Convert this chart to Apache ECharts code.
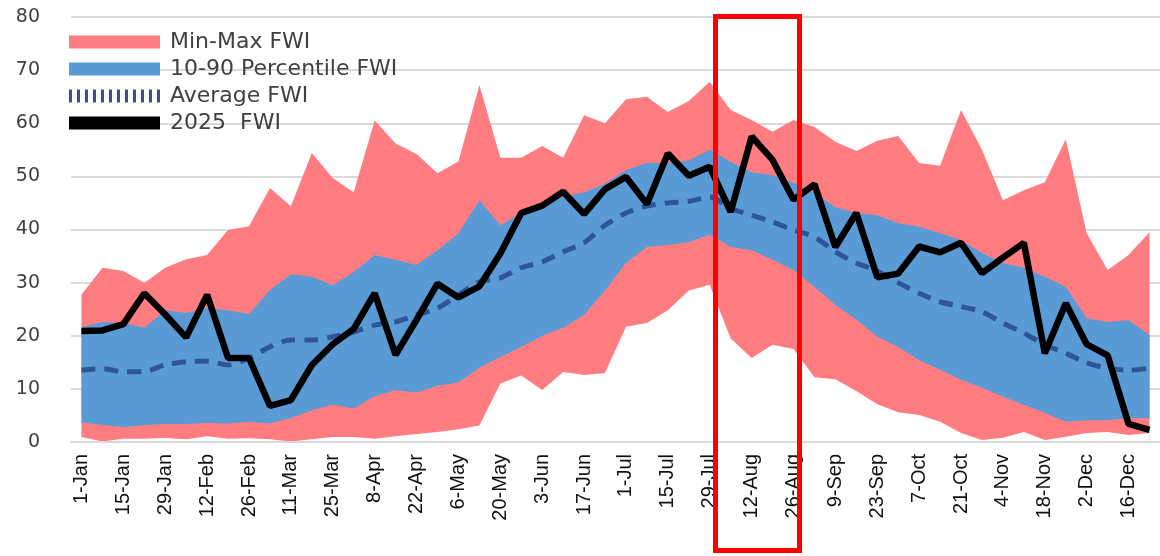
<!DOCTYPE html>
<html>
<head>
<meta charset="utf-8">
<script src="https://cdn.jsdelivr.net/npm/echarts@6.0.0/dist/echarts.min.js"></script>
<style>
  html, body { margin: 0; padding: 0; background: #fff; }
  #chart { width: 1160px; height: 556px; }
</style>
</head>
<body>
<div id="chart"></div>
<script>
// weekly dates (leap-year calendar, as on the axis)
const weeks = ['1-Jan','8-Jan','15-Jan','22-Jan','29-Jan','5-Feb','12-Feb','19-Feb','26-Feb','4-Mar',
  '11-Mar','18-Mar','25-Mar','1-Apr','8-Apr','15-Apr','22-Apr','29-Apr','6-May','13-May',
  '20-May','27-May','3-Jun','10-Jun','17-Jun','24-Jun','1-Jul','8-Jul','15-Jul','22-Jul',
  '29-Jul','5-Aug','12-Aug','19-Aug','26-Aug','2-Sep','9-Sep','16-Sep','23-Sep','30-Sep',
  '7-Oct','14-Oct','21-Oct','28-Oct','4-Nov','11-Nov','18-Nov','25-Nov','2-Dec','9-Dec',
  '16-Dec','23-Dec']

const maxFWI = [27.7, 32.8, 32.2, 30.0, 32.8, 34.4, 35.2, 39.9, 40.6, 47.8,
  44.4, 54.4, 49.7, 47.0, 60.5, 56.2, 54.2, 50.6, 52.8, 67.2,
  53.5, 53.5, 55.7, 53.5, 61.5, 60.0, 64.5, 65.0, 62.1, 64.2,
  67.8, 62.5, 60.6, 58.4, 60.6, 59.3, 56.5, 54.8, 56.7, 57.6,
  52.5, 52.0, 62.5, 55.0, 45.5, 47.4, 48.9, 57.0, 39.3, 32.4,
  35.2, 39.5]

const minFWI = [0.95, 0.1, 0.6, 0.6, 0.75, 0.5, 1.1, 0.6, 0.7, 0.5,
  0.1, 0.5, 0.95, 0.95, 0.6, 1.1, 1.5, 1.9, 2.4, 3.1,
  11.0, 12.5, 9.8, 13.2, 12.6, 13.0, 21.7, 22.4, 24.8, 28.5,
  29.6, 19.5, 15.8, 18.3, 17.5, 12.2, 11.8, 9.6, 7.1, 5.6,
  5.1, 3.8, 1.7, 0.4, 0.8, 1.9, 0.4, 1.0, 1.7, 1.9,
  1.3, 1.7]

const p90FWI = [21.6, 22.6, 22.4, 21.5, 24.8, 24.3, 25.2, 24.8, 24.1, 28.6,
  31.6, 31.1, 29.5, 32.0, 35.2, 34.3, 33.3, 36.1, 39.3, 45.5,
  40.8, 43.1, 45.0, 46.1, 47.0, 48.6, 51.2, 52.5, 52.5, 53.0,
  55.0, 52.7, 50.8, 50.2, 48.8, 46.9, 44.2, 43.1, 42.7, 41.2,
  40.5, 39.3, 38.0, 35.6, 33.7, 32.8, 31.1, 29.2, 23.3, 22.6,
  22.9, 20.1]

const p10FWI = [3.7, 3.2, 2.8, 3.2, 3.4, 3.4, 3.6, 3.5, 3.8, 3.5,
  4.5, 6.0, 7.0, 6.3, 8.6, 9.8, 9.3, 10.6, 11.2, 14.0,
  16.0, 17.9, 20.0, 21.5, 23.9, 28.5, 33.7, 36.7, 37.1, 37.6,
  39.0, 36.7, 36.1, 34.3, 32.4, 29.2, 25.8, 23.0, 19.8, 17.9,
  15.4, 13.6, 11.7, 10.2, 8.5, 7.0, 5.5, 3.8, 4.1, 4.1,
  4.5, 4.5]

const avgFWI = [13.5, 13.8, 13.2, 13.3, 14.5, 15.1, 15.2, 14.5, 15.8, 17.9,
  19.2, 19.2, 19.8, 20.7, 22.0, 22.6, 23.9, 25.2, 27.7, 30.1,
  30.9, 32.8, 33.9, 35.8, 37.5, 40.8, 43.1, 44.4, 45.0, 45.3,
  46.1, 44.0, 42.7, 41.4, 39.9, 38.6, 35.8, 33.7, 32.2, 30.0,
  28.0, 26.4, 25.5, 24.5, 22.4, 20.5, 18.3, 16.7, 14.9, 13.9,
  13.5, 13.9]

const fwi2025 = [20.9, 21.0, 22.2, 28.0, 24.0, 19.7, 27.7, 15.8, 15.8, 6.8,
  7.9, 14.5, 18.4, 21.3, 28.0, 16.4, 23.0, 29.8, 27.2, 29.3,
  35.5, 43.1, 44.5, 47.1, 42.9, 47.6, 49.9, 44.8, 54.3, 50.1,
  51.8, 43.3, 57.5, 53.1, 45.6, 48.5, 36.7, 43.1, 31.0, 31.7,
  36.8, 35.7, 37.5, 31.8, 34.7, 37.5, 16.7, 26.1, 18.4, 16.3,
  3.4, 2.3]

const yTicks = [0, 10, 20, 30, 40, 50, 60, 70, 80]

const RED = '#FF7C80'
const BLUE = '#5B9BD5'
const NAVY = '#2F5597'

// band height for the stacked percentile area
const pctSpread = p90FWI.map((v, i) => +(v - p10FWI[i]).toFixed(2))

// dashed legend icon (vertical bars like the spreadsheet legend)
let dashIcon = 'path://'
for (let k = 0; k < 12; k++) dashIcon += `M${k * 8},0h3v13h-3z`

const chart = echarts.init(document.getElementById('chart'))

const option = {
  animation: false,
  backgroundColor: '#fff',
  grid: { left: 71, right: -3, top: 17, bottom: 114 },
  legend: {
    orient: 'vertical',
    left: 69,
    top: 30,
    padding: 0,
    itemWidth: 91,
    itemHeight: 13,
    itemGap: 3,
    textStyle: {
      fontFamily: 'DejaVu Sans',
      fontSize: 22,
      color: '#404040',
      lineHeight: 24,
      padding: [0, 0, 0, 5]
    },
    data: [
      { name: 'Min-Max FWI', icon: 'rect', itemStyle: { color: RED } },
      { name: '10-90 Percentile FWI', icon: 'rect', itemStyle: { color: BLUE } },
      { name: 'Average FWI', icon: dashIcon, itemStyle: { color: NAVY } },
      { name: '2025  FWI', icon: 'rect', itemStyle: { color: '#000' } }
    ]
  },
  xAxis: {
    type: 'category',
    data: weeks,
    boundaryGap: true,
    z: 10,
    axisLine: { lineStyle: { color: '#d9d9d9', width: 2 } },
    axisTick: { show: false },
    axisLabel: {
      interval: 1,
      rotate: 90,
      margin: 12,
      fontFamily: 'Liberation Sans',
      fontSize: 20,
      color: '#111'
    },
    splitLine: { show: false }
  },
  yAxis: {
    type: 'value',
    min: yTicks[0],
    max: yTicks[yTicks.length - 1],
    interval: 10,
    axisLine: { show: false },
    axisTick: { show: false },
    axisLabel: {
      margin: 31,
      fontFamily: 'DejaVu Sans',
      fontSize: 19,
      color: '#404040'
    },
    splitLine: { lineStyle: { color: '#d9d9d9', width: 2 } }
  },
  series: [
    {
      name: 'Min-Max FWI',
      type: 'line',
      data: maxFWI,
      showSymbol: false,
      lineStyle: { width: 0 },
      itemStyle: { color: RED },
      areaStyle: { color: RED, opacity: 1 }
    },
    {
      // white below the minimum hides the gridlines like the original
      name: 'minBase',
      type: 'line',
      data: minFWI,
      showSymbol: false,
      lineStyle: { width: 0 },
      itemStyle: { color: '#fff' },
      areaStyle: { color: '#fff', opacity: 1 }
    },
    {
      name: 'p10Base',
      type: 'line',
      stack: 'pct',
      data: p10FWI,
      showSymbol: false,
      lineStyle: { width: 0 },
      areaStyle: { opacity: 0 }
    },
    {
      name: '10-90 Percentile FWI',
      type: 'line',
      stack: 'pct',
      data: pctSpread,
      showSymbol: false,
      lineStyle: { width: 0 },
      itemStyle: { color: BLUE },
      areaStyle: { color: BLUE, opacity: 1 }
    },
    {
      name: 'Average FWI',
      type: 'line',
      data: avgFWI,
      showSymbol: false,
      smooth: 0.3,
      itemStyle: { color: NAVY },
      lineStyle: { color: NAVY, width: 5, type: [14, 9] }
    },
    {
      name: '2025  FWI',
      type: 'line',
      data: fwi2025,
      showSymbol: false,
      itemStyle: { color: '#000' },
      lineStyle: { color: '#000', width: 6.5 }
    }
  ],
  graphic: [
    {
      type: 'rect',
      z: 100,
      shape: { x: 715.5, y: 16.5, width: 84, height: 534 },
      style: { fill: 'none', stroke: '#ff0000', lineWidth: 5 }
    }
  ]
}

chart.setOption(option)
</script>
</body>
</html>
